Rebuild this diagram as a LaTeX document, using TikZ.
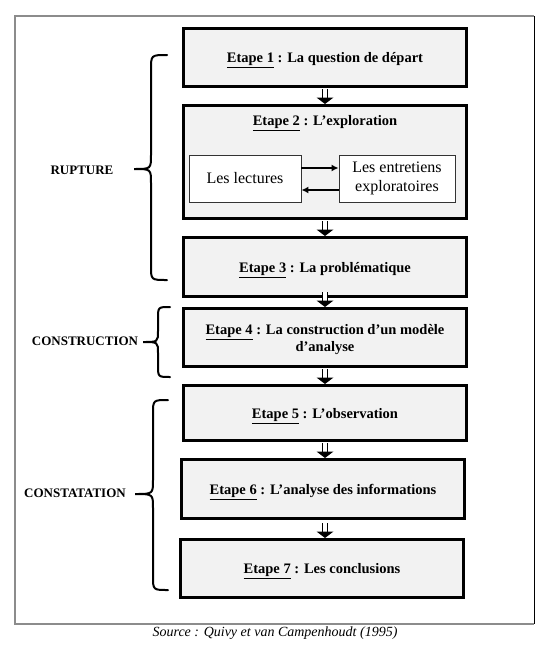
\documentclass[tikz,border=0pt]{standalone}
\usepackage{fontspec}
\setmainfont{Liberation Serif}
\usetikzlibrary{arrows.meta,calc}
\tikzset{
  stepbox/.style={draw=black,line width=3pt,fill=boxgray,minimum width=283pt,inner sep=0pt},
  steptext/.style={font=\fontsize{14.5}{17}\selectfont\bfseries,align=center,inner sep=0pt},
  innerbox/.style={draw=black!80,line width=0.9pt,fill=white,minimum height=47pt,inner sep=0pt,
    font=\fontsize{16}{19}\selectfont,align=center},
  sidelabel/.style={font=\fontsize{13}{15}\selectfont\bfseries},
  bracestyle/.style={line width=2pt,line cap=round},
  smallarrow/.style={line width=1.8pt,-{Latex[length=7pt,width=7pt]}},
}
\definecolor{boxgray}{HTML}{F2F2F2}
\newcommand{\stepname}[1]{\underline{Etape #1}}
% hollow-shaft down arrow ending at point #1 (tip)
\newcommand{\downarr}[1]{%
  \fill[white] ($#1+(-2.5,-15)$) rectangle ($#1+(2.5,-6)$);
  \draw[line width=1.4pt] ($#1+(-2.5,-15)$) -- ($#1+(-2.5,-6)$);
  \draw[line width=1.4pt] ($#1+(2.5,-15)$) -- ($#1+(2.5,-6)$);
  \fill[black] ($#1+(-8.5,-6.5)$) -- ($#1+(8.5,-6.5)$) -- #1 -- cycle;
}
\begin{document}
\begin{tikzpicture}[x=1pt,y=-1pt]
\useasboundingbox (0,0) rectangle (551,653);
% frame
\draw[gray!90,line width=2pt] (534.3,16) -- (15,16) -- (15,623.7) -- (534.3,623.7);
\draw[black,line width=1pt] (534.3,16) -- (534.3,623.7);

% boxes
\node[stepbox,minimum height=58pt] (b1) at (325,57.5) {};
\node[stepbox,minimum height=113pt] (b2) at (325,162) {};
\node[stepbox,minimum height=59pt] (b3) at (325,267) {};
\node[stepbox,minimum height=58pt] (b4) at (325,337.5) {};
\node[stepbox,minimum height=55pt] (b5) at (325,413) {};
\node[stepbox,minimum height=59pt] (b6) at (323,489) {};
\node[stepbox,minimum height=58pt] (b7) at (322,568.5) {};

% box texts
\node[steptext] (t1) at ($(b1.center)+(0,3)$) {\stepname{1} : La question de départ};
\node[steptext] (t2) at (325,123) {\stepname{2} : L’exploration};
\node[steptext] (t3) at ($(b3.center)+(0,3)$) {\stepname{3} : La problématique};
\node[steptext] (t4) at ($(b4.center)+(0,2.5)$) {\stepname{4} : La construction d’un modèle\\ d’analyse};
\node[steptext] (t5) at ($(b5.center)+(0,3)$) {\stepname{5} : L’observation};
\node[steptext] (t6) at ($(b6.center)+(0,3)$) {\stepname{6} : L’analyse des informations};
\node[steptext] (t7) at ($(b7.center)+(0,3)$) {\stepname{7} : Les conclusions};

% inner boxes
\node[innerbox,minimum width=112pt] (lec) at (245,178.5) {Les lectures};
\node[innerbox,minimum width=116pt] (ent) at (397,178.5) {Les entretiens\\exploratoires};
\draw[smallarrow] ([yshift=10.5pt]lec.east) -- ([yshift=10.5pt]ent.west);
\draw[smallarrow] ([yshift=-11.5pt]ent.west) -- ([yshift=-11.5pt]lec.east);

% down arrows
\coordinate (a2) at (b2.north -| 325,0);
\coordinate (a3) at (b3.north -| 325,0);
\coordinate (a4) at (b4.north -| 325,0);
\coordinate (a5) at (b5.north -| 325,0);
\coordinate (a6) at (b6.north -| 325,0);
\coordinate (a7) at (b7.north -| 325,0);
\downarr{(a2)}
\downarr{(a3)}
\downarr{(a4)}
\downarr{(a5)}
\downarr{(a6)}
\downarr{(a7)}

% braces
\draw[bracestyle] (167,55) .. controls (151,55) .. (151,70) -- (151,155) .. controls (151,169) .. (134,169)
  .. controls (151,169) .. (151,183) -- (151,266) .. controls (151,280) .. (167,280);
\draw[bracestyle] (170,307) .. controls (158,307) .. (158,319) -- (158,331) .. controls (158,342) .. (143,342)
  .. controls (158,342) .. (158,353) -- (158,365) .. controls (158,377) .. (170,377);
\draw[bracestyle] (168,400) .. controls (153,400) .. (153,414) -- (153,480) .. controls (153,494) .. (135,494)
  .. controls (153,494) .. (153,508) -- (153,576) .. controls (153,590) .. (168,590);

% labels
\node[sidelabel] (r) at (82,170) {RUPTURE};
\node[sidelabel] (c) at (85,341) {CONSTRUCTION};
\node[sidelabel] (k) at (75,493) {CONSTATATION};

% caption
\node[font=\fontsize{14}{16}\selectfont\itshape] (src) at (275,633) {Source : Quivy et van Campenhoudt (1995)};
\end{tikzpicture}
\end{document}
